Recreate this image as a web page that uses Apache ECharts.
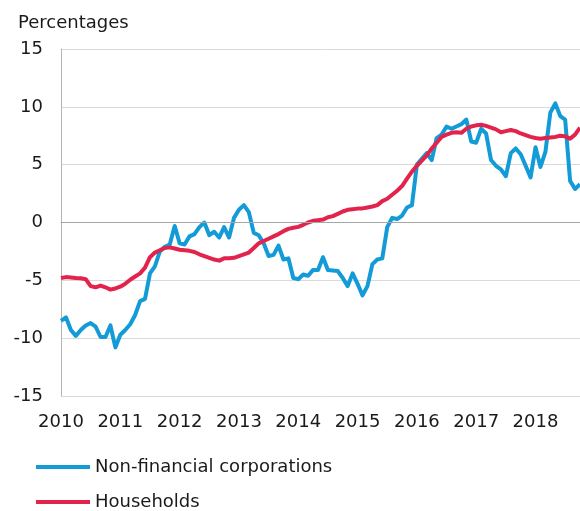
<!DOCTYPE html>
<html>
<head>
<meta charset="utf-8">
<style>
  html, body { margin: 0; padding: 0; background: #ffffff; }
  #chart { width: 580px; height: 511px; }
</style>
<script src="https://cdn.jsdelivr.net/npm/echarts@6/dist/echarts.min.js"></script>
</head>
<body>
<div id="chart"></div>
<script>
// Annual growth of lending, monthly observations Jan 2010 – Oct 2018 (per cent)
const yearLabels = ['2010', '2011', '2012', '2013', '2014', '2015', '2016', '2017', '2018'];
const lastYearMonths = 10;

const nonFinancialCorporations = [
  -8.5, -8.2, -9.3, -9.8, -9.3, -8.9, -8.7, -9.0, -9.9, -9.9, -8.9, -10.8,
  -9.7, -9.3, -8.8, -8.0, -6.8, -6.6, -4.4, -3.8, -2.5, -2.1, -1.9, -0.3,
  -1.8, -1.9, -1.2, -1.0, -0.4, 0.0, -1.1, -0.8, -1.3, -0.4, -1.3, 0.4,
  1.1, 1.5, 0.9, -0.9, -1.1, -1.8, -2.9, -2.8, -2.0, -3.2, -3.1, -4.8,
  -4.9, -4.5, -4.6, -4.1, -4.1, -3.0, -4.1, -4.15, -4.2, -4.8, -5.5, -4.4,
  -5.3, -6.3, -5.5, -3.6, -3.2, -3.1, -0.4, 0.4, 0.3, 0.6, 1.3, 1.5,
  5.0, 5.5, 6.0, 5.4, 7.3, 7.6, 8.3, 8.1, 8.3, 8.5, 8.9, 7.0,
  6.9, 8.1, 7.7, 5.4, 4.9, 4.6, 4.0, 6.0, 6.4, 5.9, 4.9, 3.9,
  6.5, 4.8, 6.1, 9.5, 10.3, 9.2, 8.9, 3.6, 2.9, 3.3
];

const households = [
  -4.8, -4.72, -4.75, -4.8, -4.82, -4.9, -5.5, -5.6, -5.45, -5.6, -5.8, -5.7,
  -5.55, -5.3, -4.95, -4.67, -4.4, -3.9, -3.0, -2.6, -2.4, -2.2, -2.15, -2.25,
  -2.35, -2.4, -2.45, -2.55, -2.75, -2.9, -3.05, -3.2, -3.3, -3.1, -3.1, -3.05,
  -2.9, -2.75, -2.6, -2.2, -1.8, -1.6, -1.4, -1.2, -1.0, -0.75, -0.55, -0.45,
  -0.38, -0.2, 0.0, 0.15, 0.2, 0.25, 0.45, 0.55, 0.75, 0.95, 1.1, 1.15,
  1.2, 1.22, 1.3, 1.38, 1.5, 1.85, 2.05, 2.4, 2.75, 3.15, 3.8, 4.4,
  4.9, 5.35, 5.8, 6.4, 6.9, 7.4, 7.6, 7.75, 7.8, 7.75, 8.1, 8.3,
  8.4, 8.45, 8.35, 8.2, 8.05, 7.8, 7.9, 8.0, 7.9, 7.7, 7.55, 7.4,
  7.3, 7.25, 7.3, 7.35, 7.4, 7.5, 7.45, 7.25, 7.6, 8.2
];

const yTicks = { min: -15, max: 15, step: 5 };

// Month categories: one per observation, labelled with the year at each January
const months = [];
yearLabels.forEach((y, yi) => {
  const n = yi === yearLabels.length - 1 ? lastYearMonths : 12;
  for (let m = 1; m <= n; m++) months.push(y + '-' + String(m).padStart(2, '0'));
});

const FONT = 'DejaVu Sans';
const TEXT = '#1a1a1a';
const BLUE = '#129bd6';
const RED = '#e2234c';

// One legend block per series so the two entries stack in a single column
const legendBase = {
  orient: 'vertical',
  left: 36,
  padding: 0,
  icon: 'rect',
  itemWidth: 54,
  itemHeight: 4,
  textStyle: { fontFamily: FONT, fontSize: 18, color: TEXT }
};

const chart = echarts.init(document.getElementById('chart'), null, { renderer: 'canvas' });
chart.setOption({
  animation: false,
  backgroundColor: '#ffffff',
  textStyle: { fontFamily: FONT },
  title: {
    text: 'Percentages',
    left: 13,
    top: 9,
    textStyle: { fontFamily: FONT, fontSize: 18, fontWeight: 'normal', color: TEXT }
  },
  legend: [
    Object.assign({}, legendBase, { top: 458, data: ['Non-financial corporations'] }),
    Object.assign({}, legendBase, { top: 493, data: ['Households'] })
  ],
  grid: { left: 61, right: 0, top: 49, bottom: 115, containLabel: false },
  xAxis: {
    type: 'category',
    data: months,
    boundaryGap: false,
    axisLine: { show: true, lineStyle: { color: '#b3b3b3', width: 1 } },
    axisTick: { show: false },
    splitLine: { show: false },
    axisLabel: {
      interval: (idx) => idx % 12 === 0,
      formatter: (v) => v.slice(0, 4),
      margin: 17,
      fontFamily: FONT,
      fontSize: 18,
      color: TEXT,
      showMinLabel: true
    }
  },
  yAxis: {
    type: 'value',
    min: yTicks.min,
    max: yTicks.max,
    interval: yTicks.step,
    axisLine: { show: true, lineStyle: { color: '#b3b3b3', width: 1 } },
    axisTick: { show: false },
    splitLine: { show: true, lineStyle: { color: '#dadada', width: 1 } },
    axisLabel: { margin: 18, fontFamily: FONT, fontSize: 18, color: TEXT }
  },
  series: [
    {
      name: 'Non-financial corporations',
      type: 'line',
      data: nonFinancialCorporations,
      symbol: 'none',
      color: BLUE,
      lineStyle: { width: 4, color: BLUE, join: 'round' },
      markLine: {
        silent: true,
        symbol: 'none',
        label: { show: false },
        lineStyle: { color: '#a6a6a6', width: 1, type: 'solid' },
        data: [{ yAxis: 0 }]
      },
      z: 2
    },
    {
      name: 'Households',
      type: 'line',
      data: households,
      symbol: 'none',
      color: RED,
      lineStyle: { width: 4, color: RED, join: 'round' },
      z: 3
    }
  ]
});
</script>
</body>
</html>
